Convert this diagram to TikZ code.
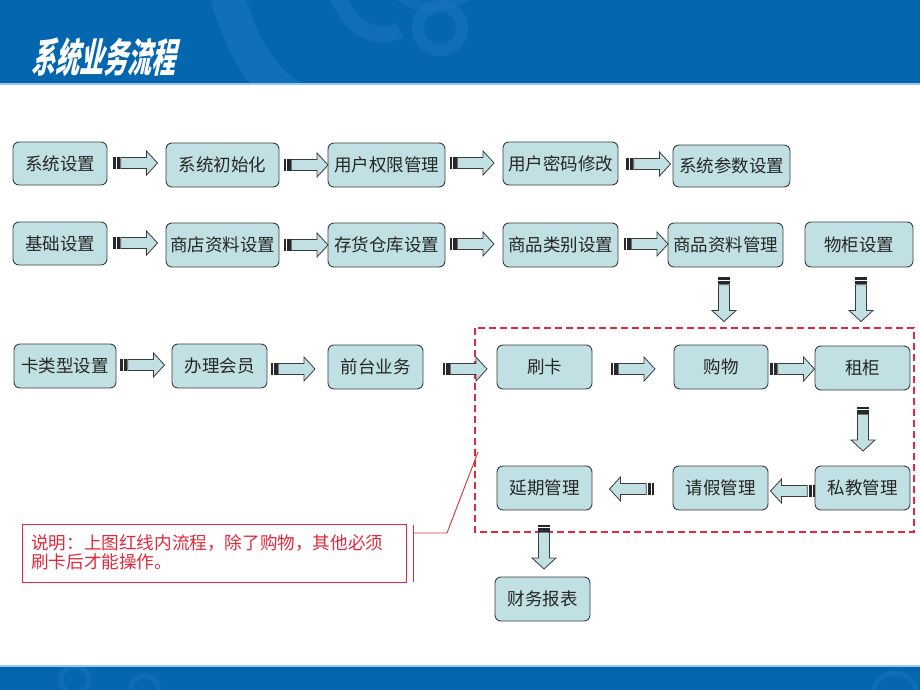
\documentclass[tikz,border=0pt]{standalone}
\usepackage{fontspec}
\newfontfamily\cjk{Noto Sans CJK SC}
\newfontfamily\titlefont[FakeSlant=0.22,FakeStretch=0.6]{Noto Sans CJK SC}
\definecolor{hdrblue}{RGB}{5,102,176}
\definecolor{swirl}{RGB}{22,116,188}
\definecolor{hdrline}{RGB}{150,200,235}
\definecolor{boxfill}{RGB}{192,224,228}
\definecolor{boxdraw}{RGB}{60,60,60}
\definecolor{notered}{RGB}{226,40,60}
\definecolor{stripedark}{RGB}{40,40,40}
\tikzset{
  box/.style={draw=boxdraw, line width=0.9pt, fill=boxfill, rounded corners=6pt,
    inner sep=0pt, font=\cjk\fontsize{17.5}{20}\selectfont, text=black!85},
  arrowbody/.style={draw=boxdraw, line width=0.8pt, fill=boxfill},
  stripebar/.style={fill=stripedark, draw=stripedark, line width=0.4pt},
  sarrow/.pic={
    \path[stripebar] (-22,-5.5) rectangle (-20.4,5.5);
    \path[stripebar] (-18.8,-5.5) rectangle (-16.2,5.5);
    \path[arrowbody] (-14.8,-5.5) -- (11,-5.5) -- (11,-12) -- (22,0) -- (11,12) -- (11,5.5) -- (-14.8,5.5) -- cycle;
  },
  redline/.style={draw=notered, line width=0.9pt}
}
\begin{document}
\begin{tikzpicture}[x=1pt,y=-1pt]
\useasboundingbox (0,0) rectangle (920,690);
% header
\fill[hdrblue] (0,0) rectangle (920,83);
\begin{scope}
\clip (0,0) rectangle (920,83);
\draw[swirl, line width=34pt, opacity=0.7] (222,-20) .. controls (240,40) and (255,75) .. (295,100);
\draw[swirl, line width=16pt, opacity=0.6] (335,-10) .. controls (345,20) and (370,45) .. (400,30);
\draw[swirl, line width=12pt, opacity=0.6] (440,28) circle (22);
\draw[swirl, line width=10pt, opacity=0.5] (400,-5) .. controls (420,15) and (450,5) .. (470,-5);
\end{scope}
\fill[hdrline] (0,83) rectangle (920,85.5);
\begin{scope}[shift={(31,57)}]
\node[anchor=west, text=white, inner sep=0pt, font=\titlefont\bfseries\fontsize{40}{42}\selectfont] (title) at (0,0) {系统业务流程};
\end{scope}
% footer
\fill[hdrline] (0,664.5) rectangle (920,667);
\fill[hdrblue] (0,667) rectangle (920,690);
\begin{scope}
\clip (0,667) rectangle (920,690);
\draw[swirl, line width=5pt, opacity=0.5] (75,680) circle (14);
\draw[swirl, line width=5pt, opacity=0.5] (145,690) circle (14);
\draw[swirl, line width=5pt, opacity=0.5] (895,695) circle (22);
\end{scope}

% row 1
\node[box, minimum width=94pt, minimum height=43pt] (s1) at (60,163.5) {系统设置};
\node[box, minimum width=113pt, minimum height=44pt] (s2) at (222.5,165) {系统初始化};
\node[box, minimum width=117pt, minimum height=44pt] (s3) at (386.5,165) {用户权限管理};
\node[box, minimum width=115pt, minimum height=43pt] (s4) at (560.5,163.5) {用户密码修改};
\node[box, minimum width=117pt, minimum height=42pt] (s5) at (731.5,166) {系统参数设置};
\pic at (135.5,163) {sarrow};
\pic at (306,165) {sarrow};
\pic at (472,163) {sarrow};
\pic at (648.5,164) {sarrow};

% row 2
\node[box, minimum width=94pt, minimum height=43pt] (b1) at (60,243.5) {基础设置};
\node[box, minimum width=113pt, minimum height=44pt] (b2) at (222.5,245) {商店资料设置};
\node[box, minimum width=117pt, minimum height=44pt] (b3) at (386.5,245) {存货仓库设置};
\node[box, minimum width=115pt, minimum height=44pt] (b4) at (560.5,245) {商品类别设置};
\node[box, minimum width=115pt, minimum height=44pt] (b5) at (725.5,245) {商品资料管理};
\node[box, minimum width=108pt, minimum height=45pt] (b6) at (859,244.5) {物柜设置};
\pic at (135.5,243) {sarrow};
\pic at (306,245) {sarrow};
\pic at (472,244) {sarrow};
\pic at (646,244) {sarrow};
\pic[rotate=-90] at (724,299.5) {sarrow};
\pic[rotate=-90] at (861,299.5) {sarrow};

% dashed region
\draw[draw=notered, line width=1.3pt, dash pattern=on 7pt off 4pt] (475,328) rectangle (914,532);

% row 3
\node[box, minimum width=102pt, minimum height=44pt] (c1) at (65,366) {卡类型设置};
\node[box, minimum width=95pt, minimum height=44pt] (c2) at (219.5,366) {办理会员};
\node[box, minimum width=95pt, minimum height=44pt] (c3) at (375.5,367) {前台业务};
\node[box, minimum width=95pt, minimum height=44pt] (d1) at (544.5,367) {刷卡};
\node[box, minimum width=94pt, minimum height=44pt] (d2) at (721,367) {购物};
\node[box, minimum width=95pt, minimum height=44pt] (d3) at (862.5,368) {租柜};
\pic at (142.5,365) {sarrow};
\pic at (293,369) {sarrow};
\pic at (465,369) {sarrow};
\pic at (633,369) {sarrow};
\pic at (792.5,369) {sarrow};
\pic[rotate=-90] at (863,429) {sarrow};

% row 4
\node[box, minimum width=95pt, minimum height=44pt] (e3) at (862.5,488) {私教管理};
\node[box, minimum width=95pt, minimum height=44pt] (e2) at (720.5,488) {请假管理};
\node[box, minimum width=95pt, minimum height=44pt] (e1) at (544.5,488) {延期管理};
\pic[rotate=180] at (792.5,491) {sarrow};
\pic[rotate=180] at (631.5,489) {sarrow};
\pic[rotate=-90] at (544,547) {sarrow};
\node[box, minimum width=95pt, minimum height=44pt] (f1) at (542.5,599) {财务报表};

% note callout
\node[draw=notered, line width=0.9pt, minimum width=384pt, minimum height=58pt, inner sep=0pt] (note) at (214,553) {};
\node[anchor=north west, align=left, inner sep=0pt, text=notered,
  font=\cjk\fontsize{17.6}{19.5}\selectfont] (notetext) at (31,534) {说明：上图红线内流程，除了购物，其他必须\\刷卡后才能操作。};
\coordinate (barT) at (413,525);
\coordinate (barB) at (413,582);
\coordinate (knee0) at (413,533);
\coordinate (knee) at (447,533);
\coordinate (tip) at (478,452);
\draw[redline] (barT) -- (barB);
\draw[redline] (knee0) -- (knee) -- (tip);
\end{tikzpicture}
\end{document}
